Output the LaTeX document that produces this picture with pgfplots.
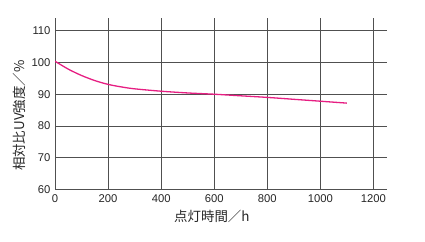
\documentclass[border=0pt]{standalone}
\usepackage{pgfplots}
\pgfplotsset{compat=1.18}
\usepackage{fontspec}
\setmainfont{Liberation Sans}
\newfontfamily\cjk{Noto Sans CJK JP}
\definecolor{curve}{RGB}{230,30,130}
\definecolor{gridc}{RGB}{80,80,80}
\begin{document}
\begin{tikzpicture}[x=1bp,y=1bp]
\useasboundingbox (0,0) rectangle (425,242);
\begin{axis}[
  at={(55bp,52.5bp)}, anchor=south west,
  scale only axis, width=331.7bp, height=171.5bp,
  xmin=0, xmax=1250, ymin=60, ymax=114,
  xtick={0,200,...,1200}, ytick={60,70,...,110},
  axis x line*=bottom, axis y line*=left,
  axis line style={-, gridc, line width=0.8bp},
  grid=major, major grid style={gridc, line width=0.7bp},
  major tick length=0pt,
  ticklabel style={font=\fontsize{11.3}{13}\selectfont, text=black!85},
  /pgf/number format/assume math mode=true,
  /pgf/number format/1000 sep={},
  xticklabel style={yshift=-2bp},
  yticklabel style={xshift=-1bp},
  xlabel={{\cjk 点灯時間／h}},
  ylabel={{\cjk 相対比UV強度／\%}},
  label style={font=\fontsize{13.5}{15}\selectfont, text=black!85},
  xlabel style={at={(ticklabel cs:0.473)}},
  ylabel style={at={(ticklabel cs:0.43)}, yshift=-1bp},
]
\addplot[curve, line width=1.3bp, smooth] coordinates {
(0,100.4) (50,97.9) (100,95.9) (150,94.3) (200,93.1) (250,92.3) (300,91.7)
(400,90.95) (500,90.4) (600,90.0) (700,89.5) (800,89.0) (900,88.4) (1000,87.8) (1100,87.2)
};
\end{axis}
\end{tikzpicture}
\end{document}
